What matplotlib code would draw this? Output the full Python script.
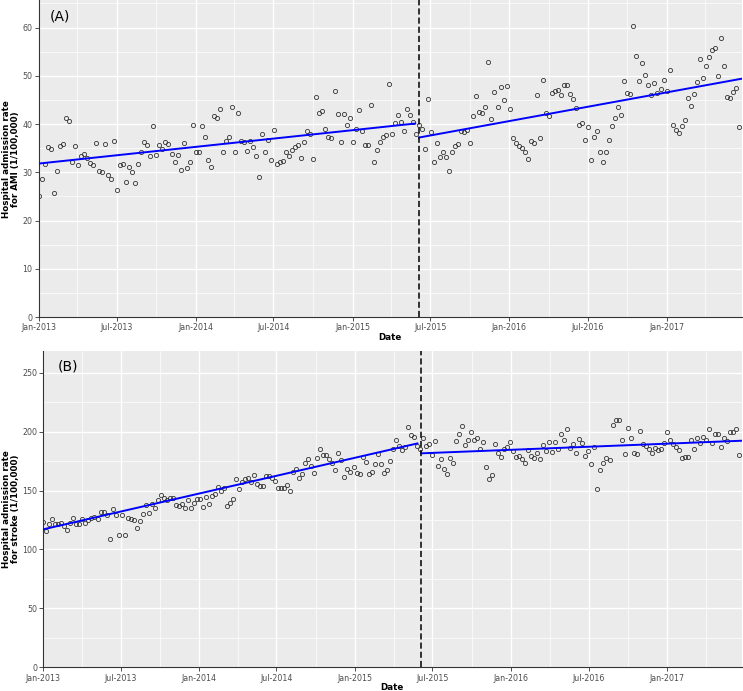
import numpy as np
import pandas as pd
import matplotlib
matplotlib.use("Agg")
import matplotlib.pyplot as plt
import matplotlib.dates as mdates

# ---------------- data ----------------
start_date = "2013-01-01"
end_date = "2017-06-18"
intervention = "2015-06-04"

ami = [25.0, 28.6, 31.8, 35.2, 34.8, 25.8, 30.3, 35.4, 35.9, 41.2, 40.6, 32.1, 35.4, 31.4, 33.4, 33.7,
       32.9, 32.0, 31.6, 36.0, 30.2, 30.0, 35.9, 29.4, 28.5, 36.4, 26.3, 31.6, 31.8, 28.0, 31.1, 30.1,
       27.7, 31.8, 34.1, 36.3, 35.6, 33.4, 39.5, 33.5, 35.6, 34.9, 36.3, 35.8, 33.8, 32.2, 33.6, 30.4,
       36.1, 30.8, 32.2, 39.7, 34.3, 34.3, 39.5, 37.4, 32.5, 31.0, 41.7, 41.3, 43.1, 34.3, 36.4, 37.4,
       43.5, 34.1, 42.2, 36.4, 36.3, 34.4, 36.4, 35.3, 33.4, 29.1, 37.9, 34.2, 36.6, 32.5, 38.7, 31.8,
       32.1, 32.3, 34.1, 33.4, 34.7, 35.3, 35.6, 33.0, 36.2, 38.5, 38.0, 32.8, 45.6, 42.3,
       42.6, 38.9, 37.4, 37.0, 46.8, 42.0, 36.2, 42.0, 39.7, 41.3, 36.2, 39.0, 42.9, 38.5, 35.6, 35.7,
       43.9, 32.2, 34.7, 36.2, 37.4, 37.7, 48.2, 37.9, 40.3, 41.9, 40.4, 38.5, 43.1, 41.9, 40.5, 37.9,
       39.7, 38.9, 34.9, 45.1, 38.4, 32.2, 36.0, 33.1, 34.3, 33.1, 30.2, 34.1, 35.5, 35.8,
       38.6, 38.3, 38.7, 36.1, 41.6, 45.9, 42.4, 42.2, 43.6, 52.9, 41.1, 46.6, 43.5, 47.6, 44.9, 47.9,
       43.1, 37.1, 36.1, 35.5, 35.0, 34.2, 32.7, 36.5, 36.0, 46.0, 37.1, 49.2, 42.3, 41.7, 46.4, 46.8,
       47.1, 46.0, 48.1, 48.1, 46.3, 45.2, 43.3, 39.7, 40.3, 36.6, 39.3, 32.6, 37.3, 38.6,
       34.1, 32.1, 34.3, 36.6, 39.6, 41.3, 43.5, 41.9, 48.9, 46.4, 46.2, 60.4, 54.0, 49.0, 52.6, 50.2,
       48.0, 46.0, 48.5, 46.5, 47.3, 49.2, 46.9, 51.2, 39.7, 38.7, 38.1, 39.5, 40.8, 45.4, 43.7, 46.3,
       48.7, 53.5, 49.6, 52.1, 53.9, 55.3, 55.8, 49.9, 57.9, 52.0, 45.6, 45.4, 46.6, 47.4, 39.4]

stroke = [123.0, 116.0, 121.9, 125.8, 121.6, 121.9, 122.2, 120.2, 116.5, 122.5, 127.0, 121.3, 121.3,
          125.6, 122.2, 125.0, 126.4, 127.3, 125.8, 131.5, 132.1, 129.0, 108.9, 134.0, 129.2, 112.6,
          129.0, 112.6, 127.0, 126.1, 125.3, 117.9, 124.2, 129.8, 138.0, 130.7, 138.6, 135.5, 142.0,
          145.9, 143.9, 142.2, 143.4, 143.7, 138.0, 137.2,
          138.6, 135.2, 142.2, 135.5, 139.7, 142.8, 143.1, 136.3, 144.8, 138.9, 145.6, 147.3, 153.3,
          149.3, 152.1, 136.6, 139.7, 142.5, 159.8, 151.6, 157.0, 160.1, 160.6, 157.5, 162.9, 155.3,
          153.8, 154.1, 162.3, 162.0, 160.9, 158.4, 152.1, 152.1, 152.4, 154.7, 149.9, 165.7, 168.3,
          160.9, 164.0, 173.6, 176.5, 170.5, 164.6, 177.9, 185.5,
          180.4, 180.4, 177.0, 173.6, 167.1, 182.1, 175.6, 161.8, 168.3, 165.7, 170.2, 164.6, 164.3,
          178.2, 174.2, 164.3, 165.7, 172.8, 181.0, 172.5, 164.6, 167.7, 174.8, 185.5, 192.6, 187.8,
          184.1, 186.9, 203.9, 197.1, 195.1, 188.1, 185.2, 194.9, 188.1, 189.8, 180.1, 192.0, 170.8,
          177.0, 168.6, 164.3, 177.6, 173.6, 192.0, 198.2,
          204.5, 188.3, 192.6, 199.9, 192.9, 194.3, 185.5, 191.2, 170.2, 159.8, 162.9, 189.5, 182.1,
          178.2, 185.0, 187.2, 190.9, 183.5, 178.2, 179.6, 176.5, 173.6, 184.4, 179.6, 177.9, 181.6,
          176.5, 188.6, 183.8, 191.2, 182.4, 191.5, 185.2, 198.2, 192.6, 201.9, 185.8, 189.2, 182.1,
          193.7, 190.6, 179.3, 183.5, 172.8, 186.7, 151.3,
          167.4, 173.6, 177.9, 176.2, 205.6, 209.6, 209.8, 193.2, 180.7, 203.3, 194.9, 181.6, 180.7,
          200.2, 189.8, 187.8, 185.0, 182.1, 186.4, 184.4, 185.2, 190.6, 199.4, 192.9, 189.8, 187.2,
          184.4, 177.6, 178.7, 178.7, 192.6, 185.0, 194.9, 190.6, 195.4, 192.9, 201.9, 190.6, 197.7,
          197.7, 186.6, 194.9, 191.7, 199.4, 199.4, 201.9, 180.4]

# fitted segmented-regression lines
fit_pre_dates = ["2013-01-01", "2015-05-27"]
fit_post_dates = ["2015-06-05", "2017-06-25"]
ami_fit_pre = [31.8, 40.1]
ami_fit_post = [37.2, 49.4]
stroke_fit_pre = [117.1, 190.0]
stroke_fit_post = [181.6, 192.3]

tick_dates = ["2013-01-01", "2013-07-01", "2014-01-01", "2014-07-01", "2015-01-01",
              "2015-07-01", "2016-01-01", "2016-07-01", "2017-01-01"]
tick_labels = ["Jan-2013", "Jul-2013", "Jan-2014", "Jul-2014", "Jan-2015",
               "Jul-2015", "Jan-2016", "Jul-2016", "Jan-2017"]
minor_dates = ["2013-04-01", "2013-10-01", "2014-04-01", "2014-10-01", "2015-04-01",
               "2015-10-01", "2016-04-01", "2016-10-01", "2017-04-01"]

xlim = ["2013-01-01", "2017-06-25"]

# ---------------- plotting ----------------
plt.rcParams['font.family'] = ['DejaVu Sans']
W, H = 743, 691
fig = plt.figure(figsize=(W / 100, H / 100), dpi=100)

def px_axes(l, t, r, b):
    return fig.add_axes([l / W, 1 - b / H, (r - l) / W, (b - t) / H])

axA = px_axes(38.7, 0, 742, 317)
axB = px_axes(43.3, 350.7, 742, 667.3)

BG = "#EBEBEB"
TXT = "#4D4D4D"

def style(ax, ylim, ymaj, ymin):
    ax.set_facecolor(BG)
    for s in ["top", "right"]:
        ax.spines[s].set_visible(False)
    for s in ["left", "bottom"]:
        ax.spines[s].set_color("#333333")
        ax.spines[s].set_linewidth(0.8)
    ax.set_xlim(pd.to_datetime(xlim[0]), pd.to_datetime(xlim[1]))
    ax.set_ylim(*ylim)
    ax.set_xticks(pd.to_datetime(tick_dates))
    ax.set_xticklabels(tick_labels)
    ax.set_xticks(pd.to_datetime(minor_dates), minor=True)
    ax.set_yticks(ymaj)
    ax.set_yticks(ymin, minor=True)
    ax.grid(which="major", color="white", linewidth=1.0)
    ax.grid(which="minor", color="white", linewidth=0.5)
    ax.set_axisbelow(True)
    ax.tick_params(which="major", length=3, width=0.6, color="#333333",
                   labelsize=5.7, labelcolor=TXT, pad=1.5)
    ax.tick_params(which="minor", length=0)

def panel(ax, vals, pre, post):
    dates = pd.date_range(start_date, end_date, periods=len(vals))
    ax.plot(dates, vals, linestyle="none", marker="o", markersize=3.0,
            markerfacecolor="none", markeredgecolor="#333333", markeredgewidth=0.6, zorder=3)
    ax.plot(pd.to_datetime(fit_pre_dates), pre, color="#0000FF", linewidth=1.4, zorder=4)
    ax.plot(pd.to_datetime(fit_post_dates), post, color="#0000FF", linewidth=1.4, zorder=4)
    ax.axvline(pd.to_datetime(intervention), color="black", linewidth=1.1,
               linestyle=(0, (4, 2)), zorder=5)

style(axA, (0, 65.7), np.arange(0, 61, 10), np.arange(5, 66, 10))
style(axB, (0, 268.7), np.arange(0, 251, 50), np.arange(25, 270, 50))
panel(axA, ami, ami_fit_pre, ami_fit_post)
panel(axB, stroke, stroke_fit_pre, stroke_fit_post)

fig.text(50 / W, 1 - 16 / H, "(A)", fontsize=10, ha="left", va="center")
fig.text(58 / W, 1 - 366 / H, "(B)", fontsize=10, ha="left", va="center")

fig.text(11.5 / W, 1 - 159 / H, "Hospital admission rate\nfor AMI (1/100,000)",
         rotation=90, ha="center", va="center", multialignment="center",
         fontsize=6.3, fontweight="bold", linespacing=1.0)
fig.text(11.5 / W, 1 - 509 / H, "Hospital admission rate\nfor stroke (1/100,000)",
         rotation=90, ha="center", va="center", multialignment="center",
         fontsize=6.3, fontweight="bold", linespacing=1.0)

fig.text(390 / W, 1 - 337 / H, "Date", fontsize=6.3, fontweight="bold", ha="center", va="center")
fig.text(392 / W, 1 - 687 / H, "Date", fontsize=6.3, fontweight="bold", ha="center", va="center")

fig.savefig("out.png", dpi=100)
